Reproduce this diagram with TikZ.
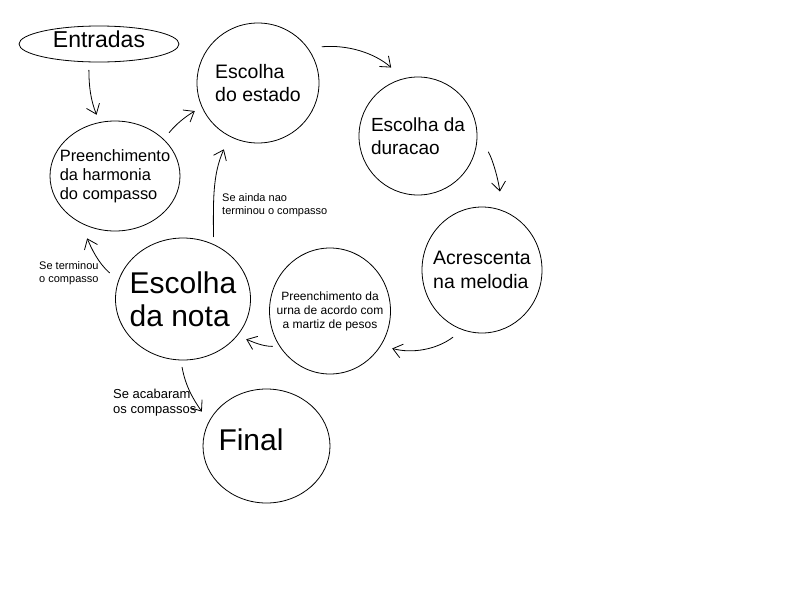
\documentclass[tikz,border=0pt]{standalone}
\usepackage{fontspec}
\setmainfont{Liberation Sans}
\usetikzlibrary{shapes.geometric, arrows.meta}
\newcommand{\tam}[2]{\fontsize{#1}{#2}\selectfont}
\tikzset{
  etapa/.style={ellipse, draw, line width=0.8pt, inner sep=-15pt, align=left},
  rotulo/.style={anchor=north west, inner sep=0pt, align=left, font=\tam{11}{13.5}},
  seta/.style={-{Straight Barb[length=9pt,width=14pt]}, line width=0.8pt},
}
\begin{document}
\begin{tikzpicture}[x=1pt, y=1pt, line join=round, line cap=round]
    \useasboundingbox (0,0) rectangle (800,-600);
    % estados
    \node[etapa, minimum width=160pt, minimum height=36pt, text depth=10pt, font=\tam{23}{26}] (entr) at (99,-44) {Entradas};
    \node[etapa, minimum width=122pt, minimum height=120pt, font=\tam{19.5}{23}] (estado) at (258,-83) {Escolha\\do estado};
    \node[etapa, minimum width=118pt, minimum height=118pt, font=\tam{19}{23}] (duracao) at (418,-136) {Escolha da\\duracao};
    \node[etapa, minimum width=120pt, minimum height=126pt, font=\tam{19.5}{24}] (acresc) at (482,-270) {Acrescenta\\na melodia};
    \node[etapa, minimum width=121pt, minimum height=126pt, align=center, font=\tam{12}{14}] (urna) at (330,-311) {Preenchimento da\\urna de acordo com\\a martiz de pesos};
    \node[etapa, minimum width=135pt, minimum height=122pt, font=\tam{30}{33}] (nota) at (183,-299) {Escolha\\da nota};
    \node[etapa, minimum width=130pt, minimum height=110pt, font=\tam{16.4}{19}] (harm) at (115,-176) {Preenchimento\\da harmonia\\do compasso};
    \node[etapa, minimum width=127pt, minimum height=114pt, text width=96pt, text depth=13.5pt, font=\tam{30}{33}] (final) at (266.5,-446) {Final};
    % rotulos
    \node[rotulo] (ainda) at (222,-193) {Se ainda nao\\terminou o compasso};
    \node[rotulo] (termin) at (39,-261) {Se terminou\\o compasso};
    \node[rotulo, font=\tam{13}{15}] (acab) at (113,-389) {Se acabaram\\os compassos};
    % setas
    \draw[seta, shorten <=8pt, shorten >=8pt] (entr.241) to[out=-90, in=112] (harm.106);
    \draw[seta, shorten <=8.4pt, shorten >=8pt] (harm.37) to[out=51, in=211] (estado.203);
    \draw[seta, shorten <=14pt, shorten >=16.5pt] (estado.35) to[out=5, in=139] (duracao.104);
    \draw[seta, shorten <=23pt, shorten >=19pt] (duracao.4) to[out=-61, in=98] (acresc.71);
    \draw[seta, shorten <=12pt, shorten >=11.5pt] (acresc.252) to[out=217, in=-15] (urna.326);
    \draw[seta, shorten <=7pt, shorten >=9.5pt] (urna.215) to[out=180, in=-22] (nota.326);
    \draw[seta, shorten <=7.4pt, shorten >=14pt] (nota.61) to[out=90, in=246] (estado.242);
    \draw[seta, shorten <=11.5pt, shorten >=16.5pt] (nota.164) to[out=139, in=293] (harm.234);
    \draw[seta, shorten <=7pt, shorten >=12pt] (nota.268) to[out=-80, in=125] (final.157);
\end{tikzpicture}
\end{document}
